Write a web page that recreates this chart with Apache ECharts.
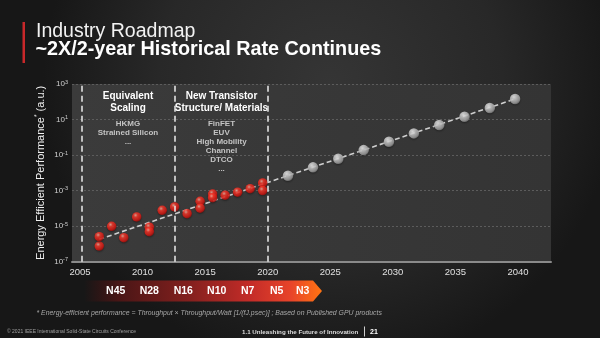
<!DOCTYPE html>
<html>
<head>
<meta charset="utf-8">
<script src="https://cdn.jsdelivr.net/npm/echarts@6/dist/echarts.min.js"></script>
<style>
  html, body { margin: 0; padding: 0; background: #1c1c1c; }
  #chart { width: 600px; height: 338px; }
</style>
</head>
<body>
<div id="chart"></div>
<script>
// Axis ticks
const xTickYears = [2005, 2010, 2015, 2020, 2025, 2030, 2035, 2040];
const yTickExps = [-7, -5, -3, -1, 1, 3];

// Published GPU products: release year and log10 of energy-efficient performance (a.u.)
const pubYears = [2006.54, 2006.54, 2007.53, 2008.5, 2009.53, 2010.54, 2010.54, 2011.57, 2012.56, 2013.56,
                  2014.6, 2014.6, 2015.6, 2015.6, 2016.6, 2017.6, 2018.6, 2019.6, 2019.6];
const pubLogPerf = [-6.12, -5.59, -5.01, -5.65, -4.48, -5.06, -5.31, -4.11, -3.92, -4.30,
                    -3.60, -3.99, -3.19, -3.40, -3.26, -3.09, -2.89, -2.57, -3.00];

// Projection along the historical rate
const projYears = [2021.62, 2023.62, 2025.64, 2027.67, 2029.69, 2031.68, 2033.71, 2035.73, 2037.75, 2039.77];
const projLogPerf = [-2.16, -1.69, -1.21, -0.72, -0.25, 0.22, 0.69, 1.16, 1.65, 2.16];

// Trend line end points
const trendYears = [2006.54, 2039.77];
const trendLogPerf = [-5.74, 2.16];

// Era boundaries (dashed verticals)
const eraBoundaries = [2005.1, 2012.6, 2020.0];

// Process nodes shown on the arrow
const nodeNames = ['N45', 'N28', 'N16', 'N10', 'N7', 'N5', 'N3'];

const FONT = 'Arial, "Liberation Sans", sans-serif';

const redBall = {
  type: 'radial', x: 0.38, y: 0.32, r: 0.72,
  colorStops: [
    { offset: 0, color: '#ffb4a4' },
    { offset: 0.3, color: '#ff3a2c' },
    { offset: 0.75, color: '#dc1812' },
    { offset: 1, color: '#8e0e0a' }
  ]
};
const grayBall = {
  type: 'radial', x: 0.38, y: 0.32, r: 0.72,
  colorStops: [
    { offset: 0, color: '#ffffff' },
    { offset: 0.35, color: '#d6d6d6' },
    { offset: 0.8, color: '#a4a4a4' },
    { offset: 1, color: '#6e6e6e' }
  ]
};

const pubData = pubYears.map((y, i) => [y, pubLogPerf[i]]);
const projData = projYears.map((y, i) => [y, projLogPerf[i]]);
const trendData = trendYears.map((y, i) => [y, trendLogPerf[i]]);

function supLabel(exp) {
  return '{b|10}{s|' + exp + '}';
}

// Annotation text blocks
const eras = [
  { cx: 128, head: ['Equivalent', 'Scaling'], items: ['HKMG', 'Strained Silicon', '...'] },
  { cx: 221.5, head: ['New Transistor', 'Structure/ Materials'], items: ['FinFET', 'EUV', 'High Mobility', 'Channel', 'DTCO', '...'] }
];

const nodeX = [115.7, 149.3, 183.3, 216.7, 247.7, 276.7, 302.7];

const graphics = [];
// title accent bar
graphics.push({ type: 'rect', shape: { x: 22.5, y: 22, width: 2.5, height: 41 }, style: { fill: '#c8282a' } });
graphics.push({ type: 'text', x: 36, y: 31.5, style: { text: 'Industry Roadmap', font: '19.5px ' + FONT, fill: '#f2f2f2', verticalAlign: 'middle' } });
graphics.push({ type: 'text', x: 35.5, y: 50, style: { text: '~2X/2-year Historical Rate Continues', font: 'bold 19.8px ' + FONT, fill: '#ffffff', verticalAlign: 'middle' } });

eras.forEach(e => {
  e.head.forEach((t, i) => {
    graphics.push({ type: 'text', x: e.cx, y: 96 + i * 12.3, style: { text: t, font: 'bold 10px ' + FONT, fill: '#ffffff', align: 'center', verticalAlign: 'middle' } });
  });
  e.items.forEach((t, i) => {
    graphics.push({ type: 'text', x: e.cx, y: 123.3 + i * 9.1, style: { text: t, font: 'bold 8px ' + FONT, fill: '#c4c4c4', align: 'center', verticalAlign: 'middle' } });
  });
});

// node arrow
graphics.push({
  type: 'polygon',
  shape: { points: [[84, 280.5], [313, 280.5], [322, 291], [313, 301.5], [84, 301.5]] },
  style: {
    fill: {
      type: 'linear', x: 0, y: 0, x2: 1, y2: 0,
      colorStops: [
        { offset: 0, color: 'rgba(70,18,18,0)' },
        { offset: 0.15, color: '#4a1616' },
        { offset: 0.45, color: '#85201e' },
        { offset: 0.7, color: '#c42c28' },
        { offset: 0.87, color: '#e8442a' },
        { offset: 1, color: '#ff7412' }
      ]
    }
  }
});
nodeNames.forEach((n, i) => {
  graphics.push({ type: 'text', x: nodeX[i], y: 291.5, style: { text: n, font: 'bold 10.5px ' + FONT, fill: '#ffffff', align: 'center', verticalAlign: 'middle' } });
});

// footnote and footer
graphics.push({ type: 'text', x: 36.5, y: 313.5, style: { text: '* Energy-efficient performance = Throughput \u00d7 Throughput/Watt [1/(fJ.psec)] ; Based on Published GPU products', font: 'italic 6.9px ' + FONT, fill: '#a8a8a8', verticalAlign: 'middle' } });
graphics.push({ type: 'text', x: 7, y: 332, style: { text: '\u00a9 2021 IEEE International Solid-State Circuits Conference', font: '5px ' + FONT, fill: '#a0a0a0', verticalAlign: 'middle' } });
graphics.push({ type: 'text', x: 242, y: 332, style: { text: '1.1 Unleashing the Future of Innovation', font: 'bold 6.2px ' + FONT, fill: '#dcdcdc', verticalAlign: 'middle' } });
graphics.push({ type: 'rect', shape: { x: 364, y: 326.5, width: 1, height: 10 }, style: { fill: '#cfcfcf' } });
graphics.push({ type: 'text', x: 370, y: 332, style: { text: '21', font: 'bold 7px ' + FONT, fill: '#ffffff', verticalAlign: 'middle' } });

const option = {
  animation: false,
  backgroundColor: {
    type: 'radial', x: 0.55, y: 0.25, r: 0.85,
    colorStops: [
      { offset: 0, color: '#353535' },
      { offset: 0.6, color: '#282828' },
      { offset: 1, color: '#171717' }
    ]
  },
  textStyle: { fontFamily: FONT },
  grid: {
    left: 72, right: 49, top: 84, bottom: 76.3,
    show: true, borderWidth: 0,
    backgroundColor: {
      type: 'linear', x: 0, y: 0, x2: 1, y2: 0,
      colorStops: [
        { offset: 0, color: '#3b3b3b' },
        { offset: 1, color: '#343434' }
      ]
    }
  },
  xAxis: {
    type: 'value', min: 2004.36, max: 2042.64,
    axisLine: { show: true, onZero: false, lineStyle: { color: '#8a8a8a', width: 2 } },
    axisTick: { show: false },
    splitLine: { show: false },
    axisLabel: {
      customValues: xTickYears,
      color: '#e0e0e0', fontSize: 9.5, margin: 6,
      formatter: v => String(v)
    }
  },
  yAxis: {
    type: 'value', min: -7, max: 3,
    name: 'Energy Efficient Performance{s|*} (a.u.)',
    nameLocation: 'middle', nameGap: 25, nameMoveOverlap: false,
    nameTextStyle: {
      color: '#f0f0f0', fontSize: 11,
      rich: { s: { fontSize: 6.5, color: '#f0f0f0', padding: [0, 0, 6, 0] } }
    },
    axisLine: { show: false },
    axisTick: { show: false, customValues: yTickExps },
    splitLine: { show: true, lineStyle: { color: '#5c5c5c', type: [2, 2], width: 1 } },
    axisLabel: {
      customValues: yTickExps,
      margin: 4,
      formatter: v => supLabel(v),
      rich: {
        b: { fontSize: 8, color: '#cfcfcf' },
        s: { fontSize: 5.5, color: '#cfcfcf', padding: [0, 0, 4, 0] }
      }
    }
  },
  graphic: graphics,
  series: [
    {
      name: 'trend', type: 'line', data: trendData,
      showSymbol: false, symbol: 'none', silent: true, z: 2,
      lineStyle: { color: '#cfcfcf', width: 1.6, type: [5, 3] },
      markLine: {
        silent: true, symbol: 'none', label: { show: false },
        lineStyle: { color: '#ececec', width: 1.5, type: [6, 4] },
        data: eraBoundaries.map(x => ({ xAxis: x }))
      }
    },
    {
      name: 'projected', type: 'scatter', data: projData, z: 3,
      symbolSize: 10.5,
      itemStyle: { color: grayBall, shadowColor: 'rgba(0,0,0,0.45)', shadowBlur: 2, shadowOffsetY: 1 }
    },
    {
      name: 'published', type: 'scatter', data: pubData, z: 4,
      symbolSize: 9.5,
      itemStyle: { color: redBall, shadowColor: 'rgba(0,0,0,0.45)', shadowBlur: 2, shadowOffsetY: 1 }
    }
  ]
};

const chart = echarts.init(document.getElementById('chart'), null, { renderer: 'canvas' });
chart.setOption(option);
</script>
</body>
</html>
